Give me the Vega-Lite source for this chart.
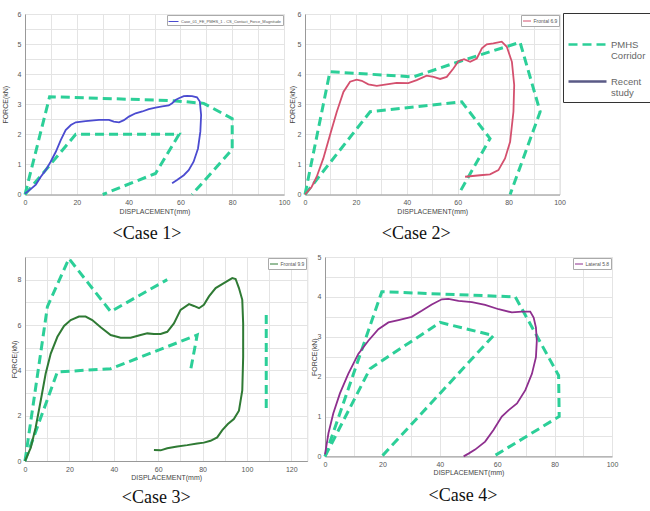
{
  "$schema": "https://vega.github.io/schema/vega-lite/v6.json",
  "background": "white",
  "padding": {"left": 1, "top": 9, "right": 0, "bottom": 0},
  "spacing": 8,
  "config": {
    "view": {"stroke": "#dcdcdc"},
    "axis": {
      "labelFont": "Liberation Sans", "labelFontSize": 7, "labelColor": "#555",
      "titleFont": "Liberation Sans", "titleFontSize": 7, "titleFontWeight": "normal", "titleColor": "#444",
      "gridColor": "#e4e4e4", "domainColor": "#999", "tickSize": 0,
      "labelFlush": false, "labelOverlap": false, "labelBound": false
    },
    "axisX": {"labelPadding": 4, "titlePadding": 1.5},
    "axisY": {"labelPadding": 4},
    "title": {"font": "Liberation Serif", "fontSize": 18, "fontWeight": "normal", "color": "#111", "orient": "bottom"}
  },
  "resolve": {
    "scale": {"color": "independent", "strokeDash": "independent", "stroke": "independent"},
    "legend": {"color": "independent", "strokeDash": "independent", "stroke": "independent"}
  },
  "vconcat": [
    {
      "spacing": -3,
      "resolve": {
        "scale": {"color": "independent", "strokeDash": "independent", "stroke": "independent"},
        "legend": {"color": "independent", "strokeDash": "independent", "stroke": "independent"}
      },
      "hconcat": [
        {
          "width": 259, "height": 180.5,
          "title": {"text": "<Case 1>", "dx": -7.5, "offset": 11},
          "data": {"values": [
            {"s": "PMHS Corridor", "p": 1, "i": 0, "x": 0, "y": 0},
            {"s": "PMHS Corridor", "p": 1, "i": 1, "x": 9.5, "y": 3.25},
            {"s": "PMHS Corridor", "p": 1, "i": 2, "x": 57, "y": 3.12},
            {"s": "PMHS Corridor", "p": 1, "i": 3, "x": 69, "y": 3.03},
            {"s": "PMHS Corridor", "p": 1, "i": 4, "x": 80, "y": 2.52},
            {"s": "PMHS Corridor", "p": 1, "i": 5, "x": 80, "y": 1.5},
            {"s": "PMHS Corridor", "p": 1, "i": 6, "x": 64.5, "y": 0},
            {"s": "PMHS Corridor", "p": 2, "i": 0, "x": 0, "y": 0},
            {"s": "PMHS Corridor", "p": 2, "i": 1, "x": 19.6, "y": 2.0},
            {"s": "PMHS Corridor", "p": 2, "i": 2, "x": 59.5, "y": 2.0},
            {"s": "PMHS Corridor", "p": 2, "i": 3, "x": 50.4, "y": 0.7},
            {"s": "PMHS Corridor", "p": 2, "i": 4, "x": 30, "y": 0},
            {"s": "Recent study", "p": 3, "i": 0, "x": 0, "y": 0.03},
            {"s": "Recent study", "p": 3, "i": 1, "x": 2.2, "y": 0.18},
            {"s": "Recent study", "p": 3, "i": 2, "x": 4.2, "y": 0.33},
            {"s": "Recent study", "p": 3, "i": 3, "x": 6.1, "y": 0.59},
            {"s": "Recent study", "p": 3, "i": 4, "x": 8.0, "y": 0.81},
            {"s": "Recent study", "p": 3, "i": 5, "x": 9.9, "y": 1.09},
            {"s": "Recent study", "p": 3, "i": 6, "x": 11.9, "y": 1.42},
            {"s": "Recent study", "p": 3, "i": 7, "x": 13.8, "y": 1.81},
            {"s": "Recent study", "p": 3, "i": 8, "x": 15.7, "y": 2.14},
            {"s": "Recent study", "p": 3, "i": 9, "x": 17.7, "y": 2.31},
            {"s": "Recent study", "p": 3, "i": 10, "x": 19.6, "y": 2.40},
            {"s": "Recent study", "p": 3, "i": 11, "x": 23.4, "y": 2.44},
            {"s": "Recent study", "p": 3, "i": 12, "x": 28.6, "y": 2.48},
            {"s": "Recent study", "p": 3, "i": 13, "x": 32.4, "y": 2.48},
            {"s": "Recent study", "p": 3, "i": 14, "x": 34.3, "y": 2.42},
            {"s": "Recent study", "p": 3, "i": 15, "x": 36.3, "y": 2.40},
            {"s": "Recent study", "p": 3, "i": 16, "x": 38.2, "y": 2.47},
            {"s": "Recent study", "p": 3, "i": 17, "x": 40.1, "y": 2.59},
            {"s": "Recent study", "p": 3, "i": 18, "x": 42.7, "y": 2.70},
            {"s": "Recent study", "p": 3, "i": 19, "x": 45.3, "y": 2.76},
            {"s": "Recent study", "p": 3, "i": 20, "x": 47.8, "y": 2.84},
            {"s": "Recent study", "p": 3, "i": 21, "x": 50.4, "y": 2.89},
            {"s": "Recent study", "p": 3, "i": 22, "x": 53.0, "y": 2.93},
            {"s": "Recent study", "p": 3, "i": 23, "x": 55.5, "y": 2.96},
            {"s": "Recent study", "p": 3, "i": 24, "x": 56.8, "y": 3.03},
            {"s": "Recent study", "p": 3, "i": 25, "x": 58.1, "y": 3.14},
            {"s": "Recent study", "p": 3, "i": 26, "x": 59.4, "y": 3.20},
            {"s": "Recent study", "p": 3, "i": 27, "x": 61.3, "y": 3.27},
            {"s": "Recent study", "p": 3, "i": 28, "x": 62.6, "y": 3.28},
            {"s": "Recent study", "p": 3, "i": 29, "x": 64.5, "y": 3.27},
            {"s": "Recent study", "p": 3, "i": 30, "x": 66.4, "y": 3.23},
            {"s": "Recent study", "p": 3, "i": 31, "x": 67.5, "y": 3.09},
            {"s": "Recent study", "p": 3, "i": 32, "x": 68.0, "y": 2.64},
            {"s": "Recent study", "p": 3, "i": 33, "x": 67.7, "y": 2.09},
            {"s": "Recent study", "p": 3, "i": 34, "x": 66.8, "y": 1.53},
            {"s": "Recent study", "p": 3, "i": 35, "x": 65.1, "y": 1.09},
            {"s": "Recent study", "p": 3, "i": 36, "x": 63.2, "y": 0.81},
            {"s": "Recent study", "p": 3, "i": 37, "x": 61.3, "y": 0.64},
            {"s": "Recent study", "p": 3, "i": 38, "x": 58.7, "y": 0.48},
            {"s": "Recent study", "p": 3, "i": 39, "x": 56.8, "y": 0.37}
          ]},
          "encoding": {
            "x": {"field": "x", "type": "quantitative", "scale": {"domain": [0, 100], "nice": false},
                  "axis": {"title": "DISPLACEMENT(mm)", "values": [0,10,20,30,40,50,60,70,80,90,100], "labelExpr": "datum.value % 20 == 0 ? datum.label : ' '"}},
            "y": {"field": "y", "type": "quantitative", "scale": {"domain": [0, 6], "nice": false},
                  "axis": {"title": "FORCE(kN)", "titlePadding": 8.5, "values": [0,0.5,1,1.5,2,2.5,3,3.5,4,4.5,5,5.5,6], "labelExpr": "datum.value % 1 == 0 ? format(datum.value, 'd') : ' '"}},
            "order": {"field": "i", "type": "quantitative"},
            "detail": {"field": "p", "type": "nominal"}
          },
          "layer": [
            {
              "transform": [{"filter": "datum.s == 'PMHS Corridor'"}],
              "mark": {"type": "line", "color": "#2ccf98", "strokeWidth": 3, "strokeDash": [9, 5]}
            },
            {
              "transform": [{"filter": "datum.s == 'Recent study'"}],
              "mark": {"type": "line", "strokeWidth": 1.8},
              "encoding": {
                "stroke": {"datum": "Case_01_FE_PMHS_1 - CS_Contact_Force_Magnitude", "scale": {"range": ["#4b4bd0"]},
                  "legend": {"title": null, "orient": "top-right", "offset": 1, "symbolType": "stroke", "symbolSize": 100, "symbolStrokeWidth": 1, "labelFontSize": 4, "labelColor": "#555", "labelLimit": 300, "padding": 1, "strokeColor": "#aaa", "fillColor": "white", "labelOffset": 2}}
              }
            }
          ]
        },
        {
          "width": 254.5, "height": 180.5,
          "title": {"text": "<Case 2>", "dx": -16, "offset": 11},
          "data": {"values": [
            {"s": "PMHS Corridor", "p": 1, "i": 0, "x": 0, "y": 0},
            {"s": "PMHS Corridor", "p": 1, "i": 1, "x": 9.8, "y": 4.08},
            {"s": "PMHS Corridor", "p": 1, "i": 2, "x": 42.6, "y": 3.91},
            {"s": "PMHS Corridor", "p": 1, "i": 3, "x": 61, "y": 4.43},
            {"s": "PMHS Corridor", "p": 1, "i": 4, "x": 84.5, "y": 5.06},
            {"s": "PMHS Corridor", "p": 1, "i": 5, "x": 92.4, "y": 2.75},
            {"s": "PMHS Corridor", "p": 1, "i": 6, "x": 80.6, "y": 0},
            {"s": "PMHS Corridor", "p": 2, "i": 0, "x": 0, "y": 0},
            {"s": "PMHS Corridor", "p": 2, "i": 1, "x": 25.6, "y": 2.75},
            {"s": "PMHS Corridor", "p": 2, "i": 2, "x": 61.6, "y": 3.08},
            {"s": "PMHS Corridor", "p": 2, "i": 3, "x": 72.7, "y": 1.86},
            {"s": "PMHS Corridor", "p": 2, "i": 4, "x": 60.3, "y": 0},
            {"s": "Recent study", "p": 3, "i": 0, "x": 0, "y": 0},
            {"s": "Recent study", "p": 3, "i": 1, "x": 2.6, "y": 0.25},
            {"s": "Recent study", "p": 3, "i": 2, "x": 4.6, "y": 0.59},
            {"s": "Recent study", "p": 3, "i": 3, "x": 7.2, "y": 1.2},
            {"s": "Recent study", "p": 3, "i": 4, "x": 9.8, "y": 1.97},
            {"s": "Recent study", "p": 3, "i": 5, "x": 12.5, "y": 2.75},
            {"s": "Recent study", "p": 3, "i": 6, "x": 15.1, "y": 3.41},
            {"s": "Recent study", "p": 3, "i": 7, "x": 17.7, "y": 3.75},
            {"s": "Recent study", "p": 3, "i": 8, "x": 20.3, "y": 3.82},
            {"s": "Recent study", "p": 3, "i": 9, "x": 22.3, "y": 3.78},
            {"s": "Recent study", "p": 3, "i": 10, "x": 24.9, "y": 3.66},
            {"s": "Recent study", "p": 3, "i": 11, "x": 28.2, "y": 3.61},
            {"s": "Recent study", "p": 3, "i": 12, "x": 32.1, "y": 3.66},
            {"s": "Recent study", "p": 3, "i": 13, "x": 36.0, "y": 3.71},
            {"s": "Recent study", "p": 3, "i": 14, "x": 40.6, "y": 3.70},
            {"s": "Recent study", "p": 3, "i": 15, "x": 43.9, "y": 3.80},
            {"s": "Recent study", "p": 3, "i": 16, "x": 47.8, "y": 3.95},
            {"s": "Recent study", "p": 3, "i": 17, "x": 50.5, "y": 3.91},
            {"s": "Recent study", "p": 3, "i": 18, "x": 53.1, "y": 3.84},
            {"s": "Recent study", "p": 3, "i": 19, "x": 55.7, "y": 3.91},
            {"s": "Recent study", "p": 3, "i": 20, "x": 58.3, "y": 4.19},
            {"s": "Recent study", "p": 3, "i": 21, "x": 60.3, "y": 4.43},
            {"s": "Recent study", "p": 3, "i": 22, "x": 62.5, "y": 4.50},
            {"s": "Recent study", "p": 3, "i": 23, "x": 64.9, "y": 4.41},
            {"s": "Recent study", "p": 3, "i": 24, "x": 67.5, "y": 4.52},
            {"s": "Recent study", "p": 3, "i": 25, "x": 69.5, "y": 4.86},
            {"s": "Recent study", "p": 3, "i": 26, "x": 71.4, "y": 4.99},
            {"s": "Recent study", "p": 3, "i": 27, "x": 74.0, "y": 5.02},
            {"s": "Recent study", "p": 3, "i": 28, "x": 77.3, "y": 5.08},
            {"s": "Recent study", "p": 3, "i": 29, "x": 79.3, "y": 4.91},
            {"s": "Recent study", "p": 3, "i": 30, "x": 81.3, "y": 4.41},
            {"s": "Recent study", "p": 3, "i": 31, "x": 82.2, "y": 3.64},
            {"s": "Recent study", "p": 3, "i": 32, "x": 81.9, "y": 2.75},
            {"s": "Recent study", "p": 3, "i": 33, "x": 80.6, "y": 1.75},
            {"s": "Recent study", "p": 3, "i": 34, "x": 78.6, "y": 1.2},
            {"s": "Recent study", "p": 3, "i": 35, "x": 76.0, "y": 0.81},
            {"s": "Recent study", "p": 3, "i": 36, "x": 72.7, "y": 0.67},
            {"s": "Recent study", "p": 3, "i": 37, "x": 68.8, "y": 0.64},
            {"s": "Recent study", "p": 3, "i": 38, "x": 62.9, "y": 0.59}
          ]},
          "encoding": {
            "x": {"field": "x", "type": "quantitative", "scale": {"domain": [0, 100], "nice": false},
                  "axis": {"title": "DISPLACEMENT(mm)", "values": [0,10,20,30,40,50,60,70,80,90,100], "labelExpr": "datum.value % 20 == 0 ? datum.label : ' '"}},
            "y": {"field": "y", "type": "quantitative", "scale": {"domain": [0, 6], "nice": false},
                  "axis": {"title": "FORCE(kN)", "titlePadding": 1.5, "values": [0,0.5,1,1.5,2,2.5,3,3.5,4,4.5,5,5.5,6], "labelExpr": "datum.value % 1 == 0 ? format(datum.value, 'd') : ' '"}},
            "order": {"field": "i", "type": "quantitative"},
            "detail": {"field": "p", "type": "nominal"}
          },
          "layer": [
            {
              "transform": [{"filter": "datum.s == 'PMHS Corridor'"}],
              "mark": {"type": "line", "strokeWidth": 3},
              "encoding": {
                "color": {"field": "s", "type": "nominal", "scale": {"domain": ["PMHS Corridor", "Recent study"], "range": ["#2ccf98", "#5a5a86"]},
                  "legend": {"title": " ", "titleFontSize": 7, "titlePadding": 0, "orient": "none", "legendX": 258, "legendY": -1, "symbolType": "stroke", "symbolSize": 1444, "symbolStrokeWidth": 2.5, "labelExpr": "split(datum.label, ' ')", "labelFont": "Liberation Sans", "labelFontSize": 9.5, "labelColor": "#666", "labelOffset": 3, "padding": 4, "strokeColor": "#333", "fillColor": "white", "rowPadding": 0, "labelLimit": 100}},
                "strokeDash": {"field": "s", "type": "nominal", "scale": {"domain": ["PMHS Corridor", "Recent study"], "range": [[9, 5], [1, 0]]},
                  "legend": {"title": " ", "titleFontSize": 7, "titlePadding": 0, "orient": "none", "legendX": 258, "legendY": -1, "symbolType": "stroke", "symbolSize": 1444, "symbolStrokeWidth": 2.5, "labelExpr": "split(datum.label, ' ')", "labelFont": "Liberation Sans", "labelFontSize": 9.5, "labelColor": "#666", "labelOffset": 3, "padding": 4, "strokeColor": "#333", "fillColor": "white", "rowPadding": 0, "labelLimit": 100}}
              }
            },
            {
              "transform": [{"filter": "datum.s == 'Recent study'"}],
              "mark": {"type": "line", "strokeWidth": 1.8},
              "encoding": {
                "stroke": {"datum": "Frontal 6.9", "scale": {"range": ["#d4506e"]},
                  "legend": {"title": null, "orient": "top-right", "offset": 1, "symbolType": "stroke", "symbolSize": 64, "symbolStrokeWidth": 1, "labelFontSize": 5, "labelColor": "#555", "padding": 1.5, "strokeColor": "#aaa", "fillColor": "white", "labelOffset": 2}}
              }
            }
          ]
        }
      ]
    },
    {
      "spacing": 2,
      "resolve": {
        "scale": {"color": "independent", "strokeDash": "independent", "stroke": "independent"},
        "legend": {"color": "independent", "strokeDash": "independent", "stroke": "independent"}
      },
      "hconcat": [
        {
          "width": 282.3, "height": 204,
          "title": {"text": "<Case 3>", "dx": -10, "offset": 8.5},
          "data": {"values": [
            {"s": "PMHS Corridor", "p": 1, "i": 0, "x": 0, "y": 0},
            {"s": "PMHS Corridor", "p": 1, "i": 1, "x": 10.1, "y": 6.81},
            {"s": "PMHS Corridor", "p": 1, "i": 2, "x": 19.8, "y": 8.93},
            {"s": "PMHS Corridor", "p": 1, "i": 3, "x": 38.6, "y": 6.59},
            {"s": "PMHS Corridor", "p": 1, "i": 4, "x": 64.1, "y": 8.0},
            {"s": "PMHS Corridor", "p": 2, "i": 0, "x": 0, "y": 0},
            {"s": "PMHS Corridor", "p": 2, "i": 1, "x": 14.6, "y": 3.93},
            {"s": "PMHS Corridor", "p": 2, "i": 2, "x": 38.6, "y": 4.07},
            {"s": "PMHS Corridor", "p": 2, "i": 3, "x": 77.6, "y": 5.56},
            {"s": "PMHS Corridor", "p": 2, "i": 4, "x": 74.6, "y": 4.0},
            {"s": "PMHS Corridor", "p": 4, "i": 0, "x": 108.7, "y": 6.44},
            {"s": "PMHS Corridor", "p": 4, "i": 1, "x": 108.7, "y": 2.3},
            {"s": "Recent study", "p": 3, "i": 0, "x": 0, "y": 0},
            {"s": "Recent study", "p": 3, "i": 1, "x": 2.6, "y": 0.59},
            {"s": "Recent study", "p": 3, "i": 2, "x": 4.8, "y": 1.48},
            {"s": "Recent study", "p": 3, "i": 3, "x": 7.1, "y": 2.67},
            {"s": "Recent study", "p": 3, "i": 4, "x": 9.3, "y": 3.85},
            {"s": "Recent study", "p": 3, "i": 5, "x": 11.6, "y": 4.74},
            {"s": "Recent study", "p": 3, "i": 6, "x": 14.6, "y": 5.48},
            {"s": "Recent study", "p": 3, "i": 7, "x": 17.6, "y": 5.96},
            {"s": "Recent study", "p": 3, "i": 8, "x": 20.6, "y": 6.22},
            {"s": "Recent study", "p": 3, "i": 9, "x": 24.3, "y": 6.37},
            {"s": "Recent study", "p": 3, "i": 10, "x": 27.3, "y": 6.37},
            {"s": "Recent study", "p": 3, "i": 11, "x": 30.3, "y": 6.22},
            {"s": "Recent study", "p": 3, "i": 12, "x": 34.1, "y": 5.90},
            {"s": "Recent study", "p": 3, "i": 13, "x": 38.6, "y": 5.56},
            {"s": "Recent study", "p": 3, "i": 14, "x": 43.1, "y": 5.44},
            {"s": "Recent study", "p": 3, "i": 15, "x": 47.6, "y": 5.44},
            {"s": "Recent study", "p": 3, "i": 16, "x": 52.1, "y": 5.56},
            {"s": "Recent study", "p": 3, "i": 17, "x": 55.1, "y": 5.63},
            {"s": "Recent study", "p": 3, "i": 18, "x": 58.1, "y": 5.60},
            {"s": "Recent study", "p": 3, "i": 19, "x": 61.1, "y": 5.60},
            {"s": "Recent study", "p": 3, "i": 20, "x": 64.1, "y": 5.70},
            {"s": "Recent study", "p": 3, "i": 21, "x": 67.1, "y": 6.07},
            {"s": "Recent study", "p": 3, "i": 22, "x": 70.1, "y": 6.67},
            {"s": "Recent study", "p": 3, "i": 23, "x": 73.9, "y": 6.92},
            {"s": "Recent study", "p": 3, "i": 24, "x": 76.1, "y": 6.84},
            {"s": "Recent study", "p": 3, "i": 25, "x": 78.4, "y": 6.74},
            {"s": "Recent study", "p": 3, "i": 26, "x": 80.6, "y": 6.89},
            {"s": "Recent study", "p": 3, "i": 27, "x": 82.9, "y": 7.26},
            {"s": "Recent study", "p": 3, "i": 28, "x": 85.9, "y": 7.63},
            {"s": "Recent study", "p": 3, "i": 29, "x": 89.6, "y": 7.85},
            {"s": "Recent study", "p": 3, "i": 30, "x": 93.4, "y": 8.07},
            {"s": "Recent study", "p": 3, "i": 31, "x": 94.9, "y": 8.03},
            {"s": "Recent study", "p": 3, "i": 32, "x": 96.4, "y": 7.63},
            {"s": "Recent study", "p": 3, "i": 33, "x": 97.9, "y": 7.11},
            {"s": "Recent study", "p": 3, "i": 34, "x": 98.3, "y": 6.07},
            {"s": "Recent study", "p": 3, "i": 35, "x": 98.3, "y": 4.59},
            {"s": "Recent study", "p": 3, "i": 36, "x": 97.9, "y": 3.11},
            {"s": "Recent study", "p": 3, "i": 37, "x": 96.4, "y": 2.22},
            {"s": "Recent study", "p": 3, "i": 38, "x": 94.1, "y": 1.85},
            {"s": "Recent study", "p": 3, "i": 39, "x": 91.4, "y": 1.63},
            {"s": "Recent study", "p": 3, "i": 40, "x": 88.9, "y": 1.36},
            {"s": "Recent study", "p": 3, "i": 41, "x": 86.6, "y": 1.04},
            {"s": "Recent study", "p": 3, "i": 42, "x": 83.6, "y": 0.89},
            {"s": "Recent study", "p": 3, "i": 43, "x": 80.6, "y": 0.81},
            {"s": "Recent study", "p": 3, "i": 44, "x": 77.6, "y": 0.77},
            {"s": "Recent study", "p": 3, "i": 45, "x": 73.1, "y": 0.70},
            {"s": "Recent study", "p": 3, "i": 46, "x": 68.6, "y": 0.64},
            {"s": "Recent study", "p": 3, "i": 47, "x": 64.1, "y": 0.56},
            {"s": "Recent study", "p": 3, "i": 48, "x": 61.1, "y": 0.47},
            {"s": "Recent study", "p": 3, "i": 49, "x": 58.1, "y": 0.48}
          ]},
          "encoding": {
            "x": {"field": "x", "type": "quantitative", "scale": {"domain": [0, 127.2], "nice": false},
                  "axis": {"title": "DISPLACEMENT(mm)", "values": [0,10,20,30,40,50,60,70,80,90,100,110,120], "labelExpr": "datum.value % 20 == 0 ? datum.label : ' '"}},
            "y": {"field": "y", "type": "quantitative", "scale": {"domain": [0, 9], "nice": false},
                  "axis": {"title": "FORCE(kN)", "titlePadding": -0.5, "values": [0,1,2,3,4,5,6,7,8,9], "labelExpr": "datum.value % 2 == 0 ? datum.label : ' '"}},
            "order": {"field": "i", "type": "quantitative"},
            "detail": {"field": "p", "type": "nominal"}
          },
          "layer": [
            {
              "transform": [{"filter": "datum.s == 'PMHS Corridor'"}],
              "mark": {"type": "line", "color": "#2ccf98", "strokeWidth": 3, "strokeDash": [9, 5]}
            },
            {
              "transform": [{"filter": "datum.s == 'Recent study'"}],
              "mark": {"type": "line", "strokeWidth": 2},
              "encoding": {
                "stroke": {"datum": "Frontal 9.9", "scale": {"range": ["#2f7a34"]},
                  "legend": {"title": null, "orient": "top-right", "offset": 1, "symbolType": "stroke", "symbolSize": 64, "symbolStrokeWidth": 1, "labelFontSize": 5, "labelColor": "#555", "padding": 1.5, "strokeColor": "#aaa", "fillColor": "white", "labelOffset": 2}}
              }
            }
          ]
        },
        {
          "width": 287, "height": 199.4,
          "title": {"text": "<Case 4>", "dx": -5.5, "offset": 11.3},
          "data": {"values": [
            {"s": "PMHS Corridor", "p": 1, "i": 0, "x": 0, "y": 0},
            {"s": "PMHS Corridor", "p": 1, "i": 1, "x": 19.8, "y": 4.13},
            {"s": "PMHS Corridor", "p": 1, "i": 2, "x": 66.3, "y": 4.0},
            {"s": "PMHS Corridor", "p": 1, "i": 3, "x": 81.4, "y": 2.03},
            {"s": "PMHS Corridor", "p": 1, "i": 4, "x": 81.6, "y": 1.0},
            {"s": "PMHS Corridor", "p": 1, "i": 5, "x": 58.7, "y": 0},
            {"s": "PMHS Corridor", "p": 2, "i": 0, "x": 0, "y": 0},
            {"s": "PMHS Corridor", "p": 2, "i": 1, "x": 15.7, "y": 2.2},
            {"s": "PMHS Corridor", "p": 2, "i": 2, "x": 40.1, "y": 3.36},
            {"s": "PMHS Corridor", "p": 2, "i": 3, "x": 58.7, "y": 3.03},
            {"s": "PMHS Corridor", "p": 2, "i": 4, "x": 19.8, "y": 0},
            {"s": "Recent study", "p": 3, "i": 0, "x": 0, "y": 0.05},
            {"s": "Recent study", "p": 3, "i": 1, "x": 1.2, "y": 0.58},
            {"s": "Recent study", "p": 3, "i": 2, "x": 2.9, "y": 1.08},
            {"s": "Recent study", "p": 3, "i": 3, "x": 5.2, "y": 1.58},
            {"s": "Recent study", "p": 3, "i": 4, "x": 8.1, "y": 2.07},
            {"s": "Recent study", "p": 3, "i": 5, "x": 11.6, "y": 2.57},
            {"s": "Recent study", "p": 3, "i": 6, "x": 15.1, "y": 2.90},
            {"s": "Recent study", "p": 3, "i": 7, "x": 18.6, "y": 3.19},
            {"s": "Recent study", "p": 3, "i": 8, "x": 22.1, "y": 3.36},
            {"s": "Recent study", "p": 3, "i": 9, "x": 25.6, "y": 3.42},
            {"s": "Recent study", "p": 3, "i": 10, "x": 30.2, "y": 3.50},
            {"s": "Recent study", "p": 3, "i": 11, "x": 33.7, "y": 3.65},
            {"s": "Recent study", "p": 3, "i": 12, "x": 37.2, "y": 3.81},
            {"s": "Recent study", "p": 3, "i": 13, "x": 40.7, "y": 3.94},
            {"s": "Recent study", "p": 3, "i": 14, "x": 43.0, "y": 3.95},
            {"s": "Recent study", "p": 3, "i": 15, "x": 46.5, "y": 3.90},
            {"s": "Recent study", "p": 3, "i": 16, "x": 51.2, "y": 3.87},
            {"s": "Recent study", "p": 3, "i": 17, "x": 55.8, "y": 3.80},
            {"s": "Recent study", "p": 3, "i": 18, "x": 60.5, "y": 3.69},
            {"s": "Recent study", "p": 3, "i": 19, "x": 65.1, "y": 3.61},
            {"s": "Recent study", "p": 3, "i": 20, "x": 68.6, "y": 3.63},
            {"s": "Recent study", "p": 3, "i": 21, "x": 71.5, "y": 3.63},
            {"s": "Recent study", "p": 3, "i": 22, "x": 72.7, "y": 3.48},
            {"s": "Recent study", "p": 3, "i": 23, "x": 73.5, "y": 3.23},
            {"s": "Recent study", "p": 3, "i": 24, "x": 73.8, "y": 2.90},
            {"s": "Recent study", "p": 3, "i": 25, "x": 73.5, "y": 2.49},
            {"s": "Recent study", "p": 3, "i": 26, "x": 72.1, "y": 2.07},
            {"s": "Recent study", "p": 3, "i": 27, "x": 69.8, "y": 1.66},
            {"s": "Recent study", "p": 3, "i": 28, "x": 66.9, "y": 1.33},
            {"s": "Recent study", "p": 3, "i": 29, "x": 64.0, "y": 1.16},
            {"s": "Recent study", "p": 3, "i": 30, "x": 61.6, "y": 1.0},
            {"s": "Recent study", "p": 3, "i": 31, "x": 58.7, "y": 0.66},
            {"s": "Recent study", "p": 3, "i": 32, "x": 55.8, "y": 0.37},
            {"s": "Recent study", "p": 3, "i": 33, "x": 52.3, "y": 0.17},
            {"s": "Recent study", "p": 3, "i": 34, "x": 50.0, "y": 0.07},
            {"s": "Recent study", "p": 3, "i": 35, "x": 48.3, "y": 0}
          ]},
          "encoding": {
            "x": {"field": "x", "type": "quantitative", "scale": {"domain": [0, 100], "nice": false},
                  "axis": {"title": "DISPLACEMENT(mm)", "values": [0,10,20,30,40,50,60,70,80,90,100], "labelExpr": "datum.value % 20 == 0 ? datum.label : ' '"}},
            "y": {"field": "y", "type": "quantitative", "scale": {"domain": [0, 5], "nice": false},
                  "axis": {"title": "FORCE(kN)", "titlePadding": -0.5, "values": [0,0.5,1,1.5,2,2.5,3,3.5,4,4.5,5], "labelExpr": "datum.value % 1 == 0 ? format(datum.value, 'd') : ' '"}},
            "order": {"field": "i", "type": "quantitative"},
            "detail": {"field": "p", "type": "nominal"}
          },
          "layer": [
            {
              "transform": [{"filter": "datum.s == 'PMHS Corridor'"}],
              "mark": {"type": "line", "color": "#2ccf98", "strokeWidth": 3, "strokeDash": [9, 5]}
            },
            {
              "transform": [{"filter": "datum.s == 'Recent study'"}],
              "mark": {"type": "line", "strokeWidth": 1.8},
              "encoding": {
                "stroke": {"datum": "Lateral 5.8", "scale": {"range": ["#8e2f8e"]},
                  "legend": {"title": null, "orient": "top-right", "offset": 1, "symbolType": "stroke", "symbolSize": 64, "symbolStrokeWidth": 1, "labelFontSize": 5, "labelColor": "#555", "padding": 1.5, "strokeColor": "#aaa", "fillColor": "white", "labelOffset": 2}}
              }
            }
          ]
        }
      ]
    }
  ]
}
